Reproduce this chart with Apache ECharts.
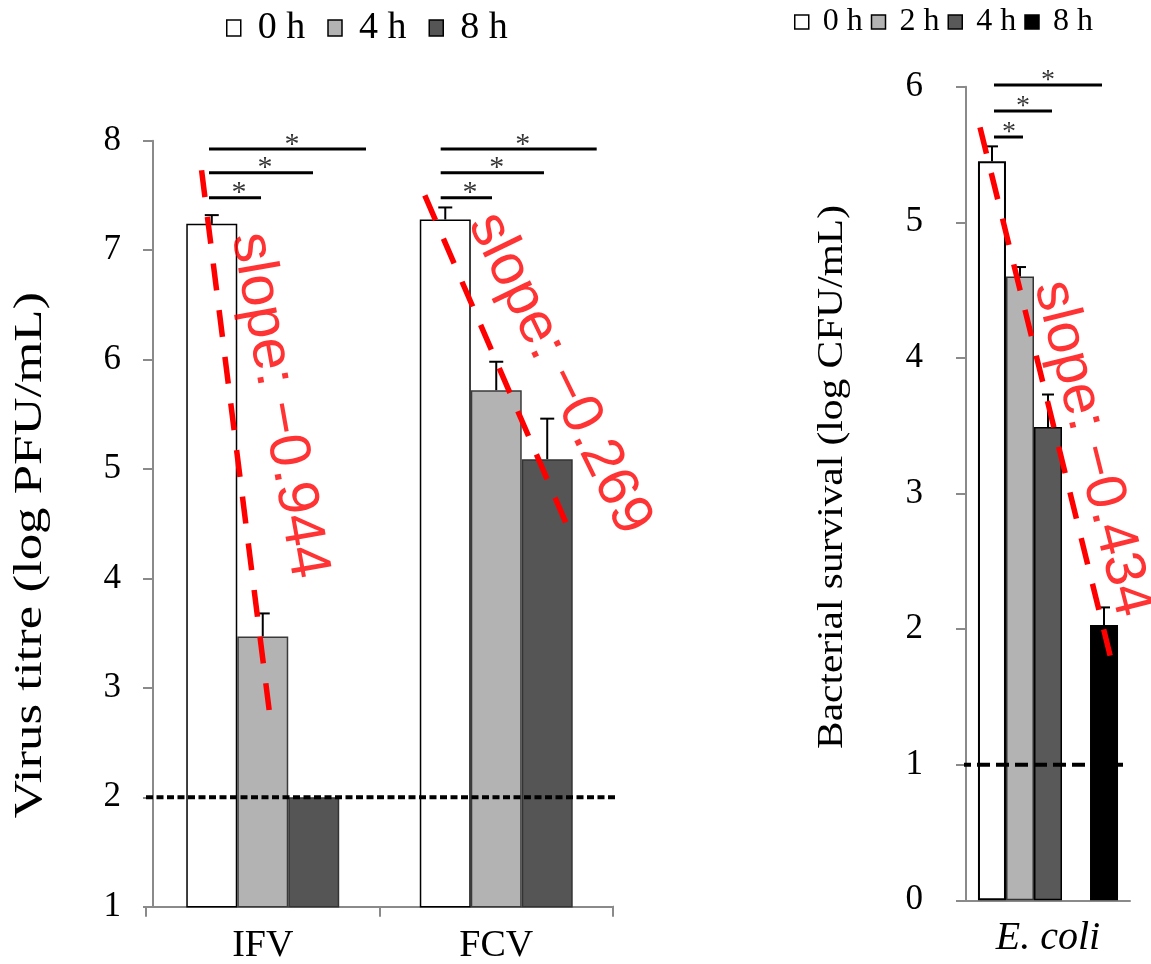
<!DOCTYPE html>
<html><head><meta charset="utf-8">
<script src="https://cdn.jsdelivr.net/npm/echarts@6/dist/echarts.min.js"></script>
<style>html,body{margin:0;padding:0;background:#fff}#chart{width:1151px;height:964px}</style>
</head><body><div id="chart"></div>
<script>
// ---------------- data ----------------
const virusCategories = ['IFV', 'FCV'];
const virusTimes = ['0 h', '4 h', '8 h'];
const virus0h = [7.24, 7.28];
const virus4h = [3.47, 5.72];
const virus8h = [2.00, 5.09];
const virus0hErr = [0.08, 0.11];
const virus4hErr = [0.21, 0.26];
const virus8hErr = [0.00, 0.37];
const virusLimit = 2;
const virusYTicks = [1, 2, 3, 4, 5, 6, 7, 8];
const virusSlopes = ['slope: \u22120.944', 'slope: \u22120.269'];

const bactCategories = ['E. coli'];
const bactTimes = ['0 h', '2 h', '4 h', '8 h'];
const bactMeans = [5.45, 4.60, 3.49, 2.03];
const bactErr = [0.11, 0.07, 0.24, 0.13];
const bactLimit = 1;
const bactYTicks = [0, 1, 2, 3, 4, 5, 6];
const bactSlope = 'slope: \u22120.434';

// ---------------- annotation geometry (x as fraction of plot width, y in axis units) ----------------
const virusTrend = [[[0.119, 7.73], [0.266, 2.72]], [[0.597, 7.50], [0.899, 4.51]]];
const bactTrend = [[0.0854, 5.70], [0.890, 1.75]];
const virusSlopeText = [[0.284, 5.58, -80], [0.885, 5.87, -64]];
const bactSlopeText = [0.768, 3.33, -76];
const virusSig = [ // [xStart, xEnd, y, starX]
  [0.1349, 0.2463, 7.479, 0.199], [0.1349, 0.3576, 7.707, 0.2548], [0.1349, 0.4711, 7.924, 0.3126],
  [0.6310, 0.7409, 7.479, 0.6938], [0.6310, 0.8522, 7.707, 0.751], [0.6310, 0.9651, 7.924, 0.8066]
];
const bactSig = [
  [0.1707, 0.3476, 5.629, 0.2622], [0.1707, 0.5244, 5.821, 0.3476], [0.1707, 0.8293, 6.013, 0.5]
];

const SERIF = 'Liberation Serif';
const SANS = 'Liberation Sans';
const AXIS_GRAY = '#8a8a8a';
const virusColors = ['#ffffff', '#b3b3b3', '#555555'];
const virusBorders = ['#000000', '#3a3a3a', '#333333'];
const bactColors = ['#ffffff', '#b3b3b3', '#595959', '#000000'];
const bactBorders = ['#000000', '#333333', '#000000', '#000000'];

const VGAP = 0.345, BGAP = 0.146;

function errRender(pos, count, gap, capHalf) {
  return function (params, api) {
    const cat = api.value(0), mean = api.value(1), err = api.value(2);
    if (!err) return null;
    const band = api.size([1, 0])[0];
    const group = band * (1 - gap);
    const bw = group / count;
    const off = -group / 2 + bw * (pos + 0.5);
    const b = api.coord([cat, mean]);
    const t = api.coord([cat, mean + err]);
    const x = b[0] + off;
    const st = { stroke: '#000', lineWidth: 2 };
    return { type: 'group', children: [
      { type: 'line', shape: { x1: x, y1: b[1], x2: x, y2: t[1] }, style: st },
      { type: 'line', shape: { x1: x - capHalf, y1: t[1], x2: x + capHalf, y2: t[1] }, style: st }
    ] };
  };
}

function lineSeries(xi, yi, pts, color, width, type) {
  return { type: 'line', xAxisIndex: xi, yAxisIndex: yi, data: pts, symbol: 'none', silent: true,
    clip: false, z: 10, animation: false,
    lineStyle: { color: color, width: width, type: type || 'solid', cap: 'butt' } };
}
function textSeries(xi, yi, items, font) {
  return { type: 'scatter', xAxisIndex: xi, yAxisIndex: yi, symbolSize: 1, silent: true, clip: false, z: 11,
    itemStyle: { color: 'rgba(0,0,0,0)' }, animation: false,
    data: items.map(it => ({ value: [it[0], it[1]], name: it[2], label: { rotate: it[3] || 0 } })),
    label: Object.assign({ show: true, position: 'inside', formatter: '{b}' }, font) };
}

const series = [];
const virusVals = [virus0h, virus4h, virus8h];
const virusErrs = [virus0hErr, virus4hErr, virus8hErr];
virusTimes.forEach((n, i) => {
  series.push({ type: 'bar', name: n, xAxisIndex: 0, yAxisIndex: 0, data: virusVals[i],
    barGap: '0%', barCategoryGap: (VGAP * 100) + '%',
    itemStyle: { color: virusColors[i], borderColor: virusBorders[i], borderWidth: 1.5 } });
});
const bactSlots = [0, 1, 2, -1, 3];
bactSlots.forEach((k) => {
  if (k < 0) {
    series.push({ type: 'bar', name: 'gap', xAxisIndex: 2, yAxisIndex: 1, data: ['-'], barGap: '0%', barCategoryGap: (BGAP * 100) + '%' });
  } else {
    series.push({ type: 'bar', name: bactTimes[k], xAxisIndex: 2, yAxisIndex: 1, data: [bactMeans[k]],
      barGap: '0%', barCategoryGap: (BGAP * 100) + '%',
      itemStyle: { color: bactColors[k], borderColor: bactBorders[k], borderWidth: k === 0 ? 2 : 1.5 } });
  }
});
virusTimes.forEach((n, i) => {
  series.push({ type: 'custom', xAxisIndex: 0, yAxisIndex: 0, clip: false, silent: true, z: 5,
    renderItem: errRender(i, 3, VGAP, 7),
    data: virusCategories.map((c, j) => [j, virusVals[i][j], virusErrs[i][j]]) });
});
bactSlots.forEach((k, pos) => {
  if (k < 0) return;
  series.push({ type: 'custom', xAxisIndex: 2, yAxisIndex: 1, clip: false, silent: true, z: 5,
    renderItem: errRender(pos, 5, BGAP, 6),
    data: [[0, bactMeans[k], bactErr[k]]] });
});
// detection limits & axis extensions
series.push(lineSeries(1, 0, [[0.0, virusLimit], [1.18, virusLimit]], '#000', 4, [7, 3.5]));
series.push(lineSeries(1, 0, [[1.0, virusYTicks[0]], [1.185, virusYTicks[0]]], AXIS_GRAY, 2));
series.push(lineSeries(3, 1, [[-0.14, bactYTicks[0]], [0, bactYTicks[0]]], AXIS_GRAY, 2));
series.push(lineSeries(3, 1, [[-0.0549, bactYTicks[0]], [-0.0549, -0.08]], AXIS_GRAY, 2));
series.push(lineSeries(3, 1, [[-0.0488, bactLimit], [0.982, bactLimit]], '#000', 4, [13, 6]));
// significance bars
virusSig.forEach(s => series.push(lineSeries(1, 0, [[s[0], s[2]], [s[1], s[2]]], '#000', 3)));
bactSig.forEach(s => series.push(lineSeries(3, 1, [[s[0], s[2]], [s[1], s[2]]], '#000', 3)));
series.push(textSeries(1, 0, virusSig.map(s => [s[3], s[2] + 0.04, '*']), { fontFamily: SERIF, fontSize: 30, color: '#000' }));
series.push(textSeries(3, 1, bactSig.map(s => [s[3], s[2] + 0.03, '*']), { fontFamily: SERIF, fontSize: 28, color: '#000' }));
// slope trend lines
virusTrend.forEach(t => series.push(lineSeries(1, 0, t, '#ff0000', 5.5, [27, 20])));
series.push(lineSeries(3, 1, bactTrend, '#ff0000', 5.5, [27, 20]));
series.push(textSeries(1, 0, virusSlopeText.map((t, i) => [t[0], t[1], virusSlopes[i], t[2]]), { fontFamily: SANS, fontSize: 58, color: '#ff0000' }));
series.push(textSeries(3, 1, [[bactSlopeText[0], bactSlopeText[1], bactSlope, bactSlopeText[2]]], { fontFamily: SANS, fontSize: 57, color: '#ff0000' }));

const axisLine = { show: true, lineStyle: { color: AXIS_GRAY, width: 2 } };
const axisTick = { show: true, inside: false, length: 10, lineStyle: { color: AXIS_GRAY, width: 2 } };

const option = {
  animation: false,
  backgroundColor: '#fff',
  grid: [
    { left: 146, top: 140.7, width: 467, height: 766, outerBoundsMode: 'none', containLabel: false },
    { left: 966, top: 86.7, width: 164, height: 813.6, outerBoundsMode: 'none', containLabel: false }
  ],
  xAxis: [
    { type: 'category', gridIndex: 0, data: virusCategories, axisLine, axisTick,
      axisLabel: { fontFamily: SERIF, fontSize: 38, color: '#000', margin: 20 } },
    { type: 'value', gridIndex: 0, min: 0, max: 1, show: false },
    { type: 'category', gridIndex: 1, data: bactCategories, axisLine, axisTick: { show: false },
      axisLabel: { fontFamily: SERIF, fontStyle: 'italic', fontSize: 40, color: '#000', margin: 18 } },
    { type: 'value', gridIndex: 1, min: 0, max: 1, show: false }
  ],
  yAxis: [
    { type: 'value', gridIndex: 0, min: virusYTicks[0], max: virusYTicks[virusYTicks.length - 1], interval: 1,
      offset: -7, axisLine, axisTick, splitLine: { show: false },
      axisLabel: { fontFamily: SERIF, fontSize: 35, color: '#000', margin: 32 } },
    { type: 'value', gridIndex: 1, min: bactYTicks[0], max: bactYTicks[bactYTicks.length - 1], interval: 1,
      offset: 9, axisLine, axisTick, splitLine: { show: false },
      axisLabel: { fontFamily: SERIF, fontSize: 35, color: '#000', margin: 34 } }
  ],
  legend: [
    { left: 226, top: 9, padding: 0, itemWidth: 14, itemHeight: 16, itemGap: 22, icon: 'rect',
      textStyle: { fontFamily: SERIF, fontSize: 38, color: '#000', padding: [0, 0, 0, 12] },
      data: virusTimes.map((n, i) => ({ name: n, itemStyle: { color: virusColors[i], borderColor: '#000', borderWidth: 1.5 } })) },
    { left: 794, top: 6, padding: 0, itemWidth: 14, itemHeight: 14, itemGap: 8, icon: 'rect',
      textStyle: { fontFamily: SERIF, fontSize: 32, color: '#000', padding: [0, 0, 0, 9] },
      data: bactTimes.map((n, i) => ({ name: n,
        itemStyle: { color: bactColors[i], borderColor: '#000', borderWidth: 1.5 },
        textStyle: { padding: i < 2 ? [0, 10, 0, 9] : [0, 0, 0, 9] } })) }
  ],
  graphic: [
    { type: 'text', x: 30, y: 555, rotation: Math.PI / 2, scaleX: 1.32, silent: true,
      style: { text: 'Virus titre (log PFU/mL)', font: '40px "' + SERIF + '"', fill: '#000', align: 'center', verticalAlign: 'middle' } },
    { type: 'text', x: 833, y: 477, rotation: Math.PI / 2, scaleX: 1.15, silent: true,
      style: { text: 'Bacterial survival (log CFU/mL)', font: '36px "' + SERIF + '"', fill: '#000', align: 'center', verticalAlign: 'middle' } }
  ],
  series
};
const chart = echarts.init(document.getElementById('chart'), null, { renderer: 'canvas' });
chart.setOption(option);
</script></body></html>
